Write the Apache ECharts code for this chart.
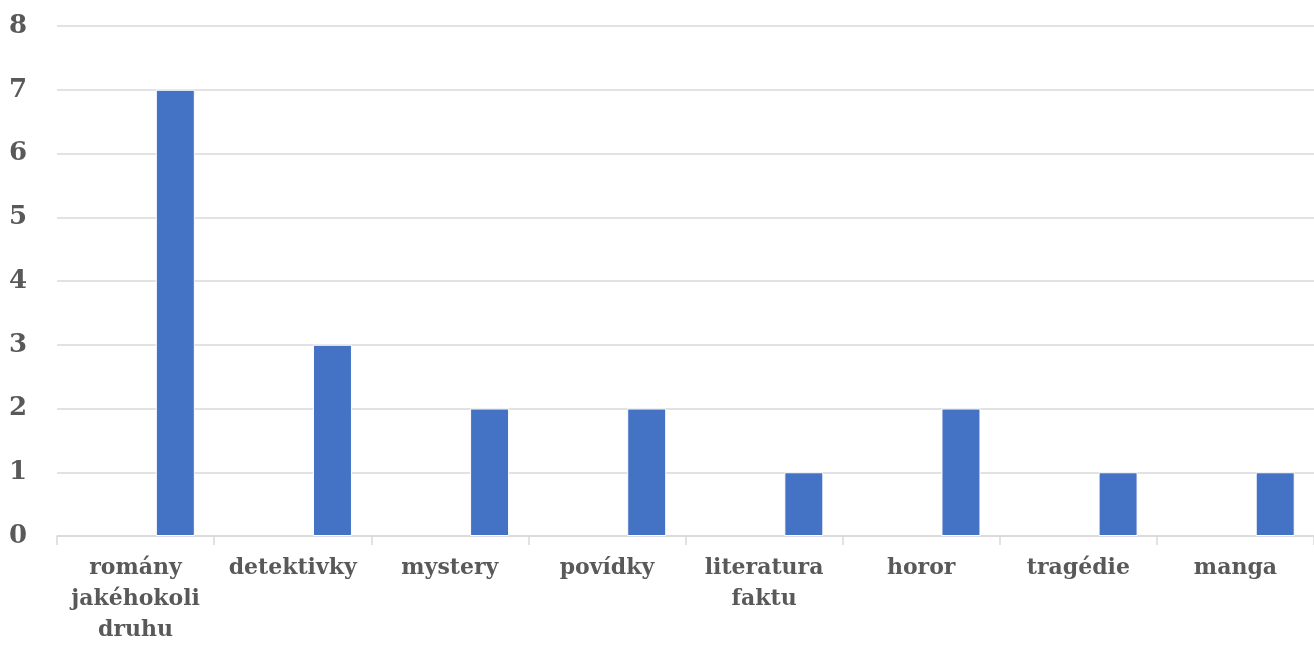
<!DOCTYPE html>
<html>
<head>
<meta charset="utf-8">
<script src="https://cdn.jsdelivr.net/npm/echarts@6/dist/echarts.min.js"></script>
<style>
html,body{margin:0;padding:0;background:#fff;}
#chart{width:1314px;height:650px;}
</style>
</head>
<body>
<div id="chart"></div>
<script>
const categories = ['romány jakéhokoli druhu', 'detektivky', 'mystery', 'povídky', 'literatura faktu', 'horor', 'tragédie', 'manga'];
const emptySeries = ['-', '-', '-', '-', '-', '-', '-', '-'];
const counts = [7, 3, 2, 2, 1, 2, 1, 1];
const yTicks = { min: 0, max: 8, interval: 1 };

const chart = echarts.init(document.getElementById('chart'));
const font = 'DejaVu Serif, serif';
chart.setOption({
  animation: false,
  grid: { left: 57, top: 26, width: 1262, height: 510, containLabel: false },
  xAxis: {
    type: 'category',
    data: categories,
    axisLine: { lineStyle: { color: '#d9d9d9', width: 1.5 } },
    axisTick: { show: true, length: 9, lineStyle: { color: '#d9d9d9', width: 1.5 } },
    axisLabel: {
      interval: 0,
      margin: 17,
      color: '#595959',
      fontFamily: font,
      fontWeight: 'bold',
      fontSize: 22,
      lineHeight: 31,
      formatter: v => v.split(' ').join('\n')
    }
  },
  yAxis: {
    type: 'value',
    min: yTicks.min, max: yTicks.max, interval: yTicks.interval,
    axisLine: { show: false },
    axisTick: { show: false },
    splitLine: { lineStyle: { color: '#d9d9d9', width: 1.5 } },
    axisLabel: {
      margin: 30,
      color: '#595959',
      fontFamily: font,
      fontWeight: 'bold',
      fontSize: 26
    }
  },
  series: [
    { type: 'bar', data: emptySeries, barWidth: 39, barGap: '104%' },
    {
      type: 'bar', data: counts, barWidth: 39,
      itemStyle: { color: '#4472C4', borderColor: '#ffffff', borderWidth: 1 }
    }
  ]
});
</script>
</body>
</html>
